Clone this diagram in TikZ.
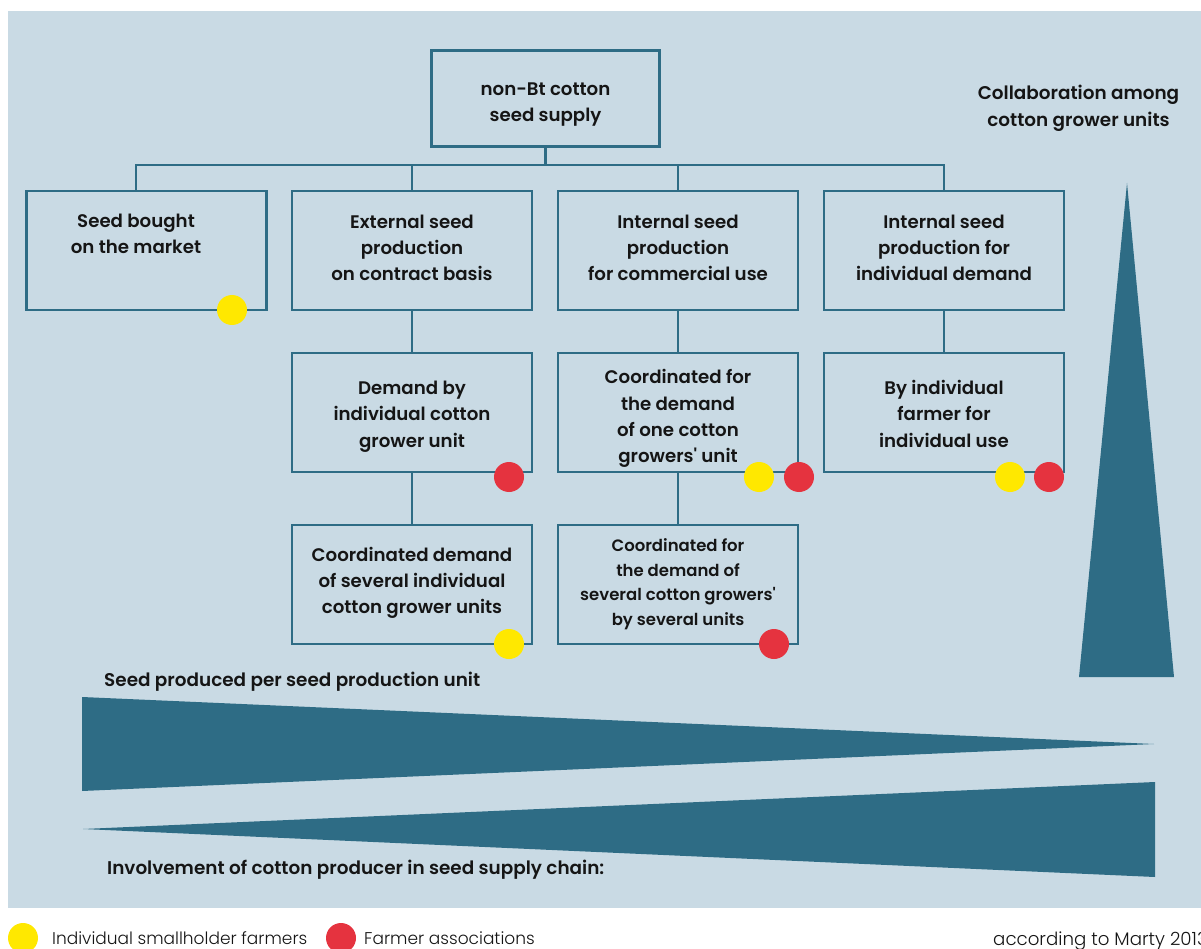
\documentclass[tikz,border=0pt]{standalone}
\usepackage{fontspec}
\setmainfont{Poppins}[BoldFont={Poppins SemiBold}]
\newfontfamily\lightfont{Poppins Light}
\newcommand\sq{{\addfontfeatures{Ligatures=TeXOff}'}}
\definecolor{panel}{HTML}{C9DAE4}
\definecolor{dk}{HTML}{2E6C85}
\definecolor{yel}{HTML}{FFE800}
\definecolor{rd}{HTML}{E5333F}
\definecolor{txt}{HTML}{151515}
\begin{document}
\begin{tikzpicture}[x=1pt,y=-1pt,
  box/.style={draw=dk, line width=2.6pt, minimum width=240pt, minimum height=119pt,
    inner sep=0pt, align=center, text=txt, text depth=0pt,
    font=\bfseries\fontsize{18.2}{26.2}\selectfont},
  lbl/.style={inner sep=0pt, text=txt, font=\bfseries\fontsize{18.4}{27}\selectfont},
  conn/.style={draw=dk, line width=2.6pt},
  doty/.style={circle, fill=yel, minimum size=30pt, inner sep=0pt},
  dotr/.style={circle, fill=rd, minimum size=30pt, inner sep=0pt},
  legtext/.style={inner sep=0pt, text=txt, font=\lightfont\fontsize{17}{20}\selectfont},
  tri/.style={fill=dk}]
\useasboundingbox (0,0) rectangle (1201,949);
\clip (0,0) rectangle (1201,949);
\fill[panel] (8,11) rectangle (1201,908);

% boxes (text height = 2 x (last baseline - centre), text depth = 0)
\node[box, minimum width=228pt, minimum height=96pt, text height=47pt] (top) at (545.5,98.5) {non-Bt cotton\\seed supply};
\node[box] (A) at (146.5,250.5) {};
\node[lbl, align=center, font=\bfseries\fontsize{18.2}{26.2}\selectfont, anchor=base] (Atext) at (136,254) {Seed bought\\on the market};
\node[box, text height=61pt] (B) at (412,250.5) {External seed\\production\\on contract basis};
\node[box, text height=61pt] (C) at (678,250.5) {Internal seed\\production\\for commercial use};
\node[box, text height=61pt] (D) at (944,250.5) {Internal seed\\production for\\individual demand};
\node[box, text height=69pt] (B2) at (412,412.5) {Demand by\\individual cotton\\grower unit};
\node[box, text height=100pt] (C2) at (678,412.5) {Coordinated for\\the demand\\of one cotton\\growers\sq\ unit};
\node[box, text height=69pt] (D2) at (944,412.5) {By individual\\farmer for\\individual use};
\node[box, text height=58pt] (B3) at (412,584.5) {Coordinated demand\\of several individual\\cotton grower units};
\node[box, text height=82pt, font=\bfseries\fontsize{16.5}{24.7}\selectfont] (C3) at (678,584.5) {Coordinated for\\the demand of\\several cotton growers\sq\\by several units};

% connectors
\coordinate (busL) at (136,165);
\coordinate (busR) at (944,165);
\draw[conn] (top.south) -- (top.south |- busL);
\draw[conn] (busL |- A.north) -- (busL) -- (busR) -- (D.north);
\draw[conn] (B.north) -- (B.north |- busL);
\draw[conn] (C.north) -- (C.north |- busL);
\draw[conn] (B.south) -- (B2.north);
\draw[conn] (B2.south) -- (B3.north);
\draw[conn] (C.south) -- (C2.north);
\draw[conn] (C2.south) -- (C3.north);
\draw[conn] (D.south) -- (D2.north);

% dots
\node[doty] (yA) at (232,310) {};
\node[dotr] (rB2) at (509,477) {};
\node[doty] (yC2) at (759,477) {};
\node[dotr] (rC2) at (799,477) {};
\node[doty] (yD2) at (1010,477) {};
\node[dotr] (rD2) at (1049,477) {};
\node[doty] (yB3) at (509,644) {};
\node[dotr] (rC3) at (774,644) {};

% triangles
\fill[tri] (1127,183) -- (1079,677) -- (1174,677) -- cycle;
\fill[tri] (82,697) -- (1154,744) -- (82,791) -- cycle;
\fill[tri] (83,829) -- (1155,782) -- (1155,877) -- cycle;

% labels
\node[lbl, align=center, anchor=base] (collab) at (1078.5,127) {Collaboration among\\cotton grower units};
\node[lbl, anchor=base west] (seedprod) at (104,686) {Seed produced per seed production unit};
\node[lbl, anchor=base west] (involve) at (107,874) {Involvement of cotton producer in seed supply chain:};

% legend
\node[doty] (legy) at (23,938) {};
\node[legtext, anchor=base west] (legyt) at (52,944) {Individual smallholder farmers};
\node[dotr] (legr) at (341,938) {};
\node[legtext, anchor=base west] (legrt) at (364,944) {Farmer associations};
\node[legtext, anchor=base west, font=\lightfont\fontsize{18.2}{20}\selectfont] (src) at (993,945) {according to Marty 2013};
\end{tikzpicture}
\end{document}
